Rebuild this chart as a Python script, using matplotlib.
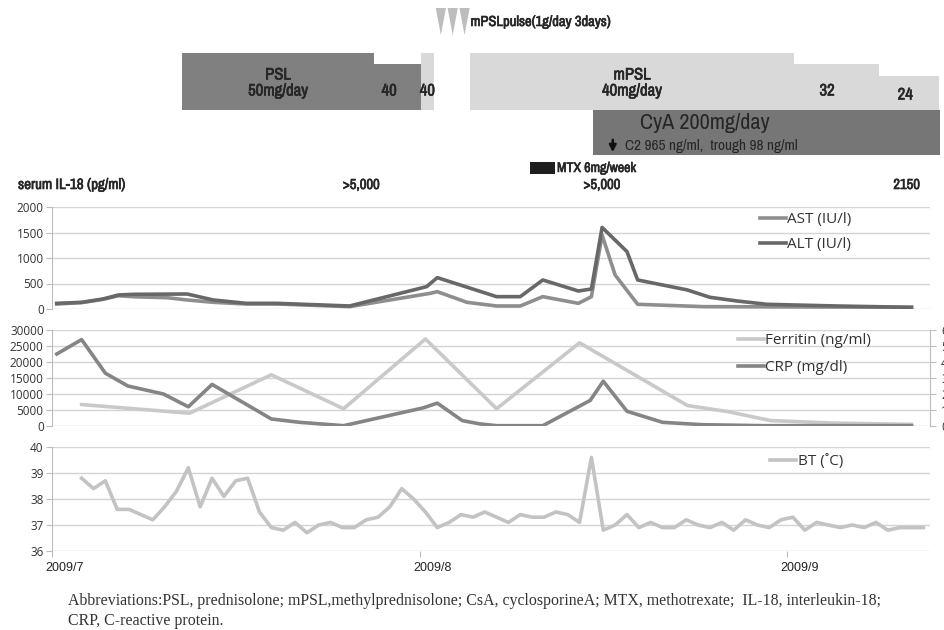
import numpy as np
import matplotlib.pyplot as plt
import matplotlib.transforms as mtransforms
import matplotlib.patheffects as pe
from matplotlib import font_manager
from matplotlib.patches import Rectangle, Polygon

plt.rcParams['font.family'] = ['Open Sans', 'DejaVu Sans']

# pick a narrow face for the treatment labels if one is installed
NARROW_STRETCH = 'normal'
narrow_name = None
for f in font_manager.fontManager.ttflist:
    if 'Narrow' in f.name or 'Condensed' in f.name:
        narrow_name = f.name
        break
if narrow_name is None:
    for f in font_manager.fontManager.ttflist:
        if f.name == 'DejaVu Sans' and f.stretch in ('condensed', 'semi-condensed', 600 - 100, 300):
            narrow_name = 'DejaVu Sans'
            NARROW_STRETCH = 'condensed'
            break
NARROW = [narrow_name] if narrow_name else ['Roboto', 'DejaVu Sans']
NARROW_SCALE = 1.0 if narrow_name else 0.88

# x values are days counted from 2009/7/1
month_ticks = [0, 31, 62]
month_labels = ['2009/7', '2009/8', '2009/9']

ast_days = [0.4, 2.5, 4.3, 5.6, 6.9, 9.7, 11.4, 13.6, 16.4, 19.0, 25.1, 31.9, 32.5, 35.0,
            37.5, 39.5, 41.4, 44.4, 45.5, 46.4, 47.5, 49.4, 55.0, 72.5]
ast_vals = [98, 125, 190, 260, 240, 222, 177, 131, 98, 98, 46, 307, 340, 131,
            59, 59, 242, 111, 242, 1450, 667, 92, 46, 33]

alt_days = [0.4, 2.5, 4.3, 5.6, 6.9, 11.4, 13.6, 16.4, 19.0, 25.1, 31.6, 32.5, 37.5, 39.5,
            41.4, 44.4, 45.5, 46.4, 48.5, 49.4, 53.6, 55.5, 57.8, 60.3, 66.2, 72.5]
alt_vals = [111, 131, 196, 275, 288, 294, 177, 111, 111, 59, 438, 615, 242, 242,
            569, 353, 392, 1600, 1125, 569, 373, 229, 157, 92, 59, 33]

ferritin_days = [2.5, 11.6, 18.5, 24.6, 31.5, 37.5, 44.5, 53.6, 57.0, 60.6, 66.0, 72.5]
ferritin_vals = [6700, 4000, 16000, 5400, 27200, 5400, 26000, 6400, 4500, 1700, 900, 500]

crp_days = [0.4, 2.5, 4.5, 6.4, 9.4, 11.5, 13.5, 18.5, 20.9, 24.6, 31.3, 32.5, 34.6, 36.1,
            37.5, 41.4, 45.4, 46.5, 48.5, 51.5, 54.9, 60.0, 72.5]
crp_vals = [4.5, 5.4, 3.3, 2.5, 2.0, 1.2, 2.6, 0.44, 0.23, 0.02, 1.13, 1.43, 0.34, 0.13,
            0.02, 0.02, 1.6, 2.8, 0.92, 0.23, 0.08, 0.02, 0.02]

# body temperature, one reading per day from day 2.5
bt_first_day = 2.5
bt_vals = [38.8, 38.4, 38.7, 37.6, 37.6, 37.4, 37.2, 37.7, 38.3, 39.2,
           37.7, 38.8, 38.1, 38.7, 38.8, 37.5, 36.9, 36.8, 37.1, 36.7,
           37.0, 37.1, 36.9, 36.9, 37.2, 37.3, 37.7, 38.4, 38.0, 37.5,
           36.9, 37.1, 37.4, 37.3, 37.5, 37.3, 37.1, 37.4, 37.3, 37.3,
           37.5, 37.4, 37.1, 39.6, 36.8, 37.0, 37.4, 36.9, 37.1, 36.9,
           36.9, 37.2, 37.0, 36.9, 37.1, 36.8, 37.2, 37.0, 36.9, 37.2,
           37.3, 36.8, 37.1, 37.0, 36.9, 37.0, 36.9, 37.1, 36.8, 36.9,
           36.9, 36.9]

# treatment: (start day, end day, dose mg/day)
psl_segments = [(10.97, 27.16, 50), (27.16, 31.13, 40)]
mpsl_segments = [(31.13, 32.2, 40), (35.26, 62.6, 40), (62.6, 69.76, 32), (69.76, 74.8, 24)]
mpsl_factor = 1.25  # PSL-equivalent height
pulse_days = [32.8, 33.8, 34.8]
cya_span = (45.6, 74.9)
mtx_span = (40.3, 42.4)
level_day = 47.3
il18_days = [26.1, 46.4, 72.1]
il18_labels = ['>5,000', '>5,000', '2150']

XMAX = 74.06
W, H = 944, 630
fig = plt.figure(figsize=(W / 100, H / 100), dpi=100)


def px_axes(top, bottom):
    return fig.add_axes([52 / W, 1 - bottom / H, 878 / W, (bottom - top) / H])


def style(ax, lo, hi, step):
    ax.set_xlim(0, XMAX)
    ax.set_ylim(lo, hi)
    ax.set_yticks(np.arange(lo, hi + step / 2, step))
    ax.set_xticks([])
    ax.grid(axis='y', color='#d4d4d4', lw=1)
    for s in ['top', 'right', 'bottom']:
        ax.spines[s].set_visible(False)
    ax.spines['left'].set_color('#bdbdbd')
    ax.tick_params(axis='y', length=4, color='#bdbdbd', labelsize=8.5, pad=2, labelcolor='#333333')


leg_kw = dict(frameon=False, loc='upper left', borderaxespad=0, borderpad=0,
              handlelength=1.7, handletextpad=0.1, fontsize=11, labelcolor='#333333')

# panel 1: AST / ALT
ax1 = px_axes(207, 309)
style(ax1, 0, 2000, 500)
ax1.plot(ast_days, ast_vals, color='#8e8e8e', lw=2.6, label='AST (IU/l)')
ax1.plot(alt_days, alt_vals, color='#686868', lw=2.6, label='ALT (IU/l)')
ax1.legend(bbox_to_anchor=(0.806, 0.95), labelspacing=0.65, **leg_kw)

# panel 2: ferritin / CRP
ax2 = px_axes(330, 426)
style(ax2, 0, 30000, 5000)
ax2r = ax2.twinx()
ax2r.set_ylim(0, 6)
ax2r.set_yticks(range(0, 7))
for s in ['top', 'left', 'bottom']:
    ax2r.spines[s].set_visible(False)
ax2r.spines['right'].set_color('#bdbdbd')
ax2r.tick_params(axis='y', length=4, color='#bdbdbd', labelsize=8.5, pad=4, labelcolor='#333333')
l_fer, = ax2.plot(ferritin_days, ferritin_vals, color='#c9c9c9', lw=2.6, label='Ferritin (ng/ml)')
l_crp, = ax2r.plot(crp_days, crp_vals, color='#858585', lw=2.6, label='CRP (mg/dl)')
ax2r.legend(handles=[l_fer, l_crp], bbox_to_anchor=(0.781, 0.97), labelspacing=0.8, **leg_kw)

# panel 3: body temperature
ax3 = px_axes(447, 551)
style(ax3, 36, 40, 1)
bt_days = bt_first_day + np.arange(len(bt_vals))
ax3.plot(bt_days, bt_vals, color='#c3c3c3', lw=2.6, label='BT (\u02daC)')
ax3.legend(bbox_to_anchor=(0.818, 0.93), **leg_kw)
ax3.set_xticks(month_ticks)
ax3.set_xticklabels(month_labels, family=['Liberation Sans', 'DejaVu Sans'], fontsize=9, color='#222222')
ax3.tick_params(axis='x', length=4, color='#bdbdbd', pad=4)
shift = mtransforms.ScaledTranslation(0.13, 0, fig.dpi_scale_trans)
for lab in ax3.get_xticklabels():
    lab.set_transform(lab.get_transform() + shift)

# top: treatment course, y in pixels from top of figure
axt = fig.add_axes([52 / W, 1 - 200 / H, 878 / W, 200 / H])
axt.set_xlim(0, XMAX)
axt.set_ylim(200, 0)
axt.axis('off')
base = 110
scale = 57 / 50
for s, e, d in psl_segments:
    axt.add_patch(Rectangle((s, base - d * scale), e - s, d * scale, color='#808080', lw=0, clip_on=False))
for s, e, d in mpsl_segments:
    h = d * mpsl_factor * scale
    axt.add_patch(Rectangle((s, base - h), e - s, h, color='#d9d9d9', lw=0, clip_on=False))
axt.add_patch(Rectangle((cya_span[0], base), cya_span[1] - cya_span[0], 45, color='#767676', lw=0, clip_on=False))
axt.add_patch(Rectangle((mtx_span[0], 162), mtx_span[1] - mtx_span[0], 12, color='#1e1e1e', lw=0, clip_on=False))
for d in pulse_days:
    axt.add_patch(Polygon([(d - 0.43, 8), (d + 0.43, 8), (d, 35)], closed=True, color='#bdbdbd', lw=0))

fs = lambda v: v * NARROW_SCALE
INK = '#262626'
bold = [pe.withStroke(linewidth=0.45, foreground=INK)]
nk = dict(family=NARROW, fontstretch=NARROW_STRETCH, color=INK)
tk = dict(fontweight='bold', ha='center', va='center', path_effects=bold, **nk)
s, e, d = psl_segments[0]
axt.text((s + e) / 2, 75, 'PSL', fontsize=fs(12), **tk)
axt.text((s + e) / 2, 91, '%dmg/day' % d, fontsize=fs(12), **tk)
s, e, d = psl_segments[1]
axt.text((s + e) / 2 - 0.7, 91, '%d' % d, fontsize=fs(12), **tk)
s, e, d = mpsl_segments[0]
axt.text((s + e) / 2, 91, '%d' % d, fontsize=fs(12), **tk)
s, e, d = mpsl_segments[1]
axt.text((s + e) / 2, 75, 'mPSL', fontsize=fs(12), **tk)
axt.text((s + e) / 2, 91, '%dmg/day' % d, fontsize=fs(12), **tk)
s, e, d = mpsl_segments[2]
axt.text((s + e) / 2 - 0.8, 91, '%d' % d, fontsize=fs(12), **tk)
s, e, d = mpsl_segments[3]
axt.text((s + e) / 2 - 0.3, 95, '%d' % d, fontsize=fs(12), **tk)

axt.text(pulse_days[-1] + 0.5, 22, 'mPSLpulse(1g/day 3days)', fontsize=fs(10.5),
         fontweight='bold', va='center', path_effects=bold, **nk)
axt.text((cya_span[0] + cya_span[1]) / 2 - 5.2, 123, 'CyA 200mg/day', fontsize=fs(16),
         ha='center', va='center', **nk)
axt.annotate('', xy=(level_day, 155), xytext=(level_day, 137),
             arrowprops=dict(arrowstyle='-|>', color='#111111', lw=1.8, mutation_scale=10))
axt.text(level_day + 1.0, 146, 'C2 965 ng/ml,  trough 98 ng/ml', fontsize=fs(11),
         va='center', **nk)
axt.text(mtx_span[1] + 0.2, 168, 'MTX 6mg/week', fontsize=fs(10),
         fontweight='bold', va='center', path_effects=bold, **nk)

fig.text(18 / W, 1 - 185 / H, 'serum IL-18 (pg/ml)', fontsize=fs(10.8),
         fontweight='bold', va='center', path_effects=bold, **nk)
for d, lab in zip(il18_days, il18_labels):
    axt.text(d, 185, lab, fontsize=fs(10.5), **tk)

abbr = ('Abbreviations:PSL, prednisolone; mPSL,methylprednisolone; CsA, cyclosporineA; '
        'MTX, methotrexate;  IL-18, interleukin-18;\nCRP, C-reactive protein.')
fig.text(68 / W, 1 - 611 / H, abbr, fontsize=11.4, family=['Liberation Serif', 'DejaVu Serif'],
         color='#333333', va='center', linespacing=1.3)

fig.savefig('out.png', dpi=100)
